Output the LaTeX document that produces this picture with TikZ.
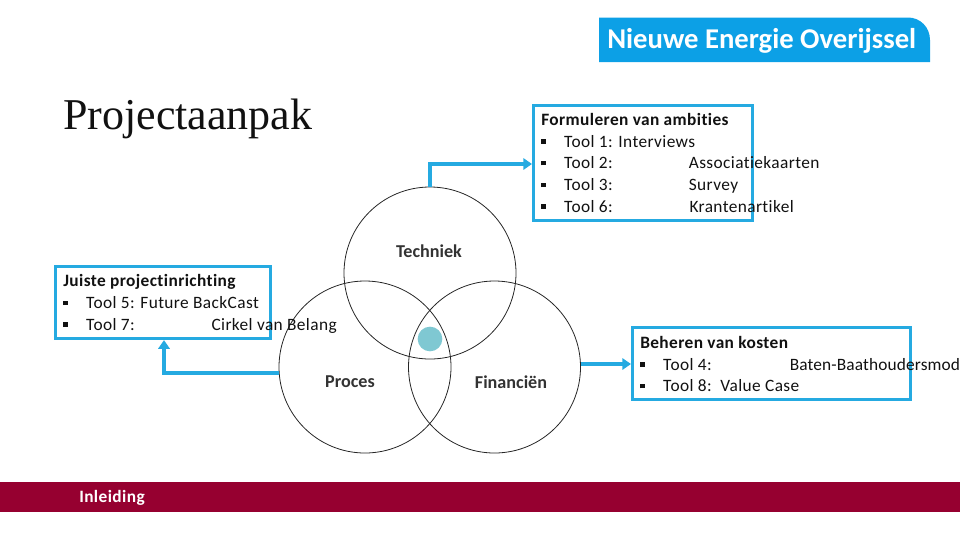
\documentclass[tikz,border=0pt]{standalone}
\usepackage{fontspec}
\setmainfont{Carlito}[LetterSpace=2.3,Ligatures=NoCommon]
\newfontfamily\titlefont{Liberation Serif}
\newfontfamily\tightfont{Carlito}
\definecolor{boxblue}{HTML}{25AAE1}
\definecolor{logoblue}{HTML}{0CA0E6}
\definecolor{band}{HTML}{960030}
\definecolor{dot}{HTML}{7FC8D2}
\definecolor{ink}{HTML}{111111}
\newcommand{\bul}{\rule[0.2em]{3.4pt}{3.4pt}}
\newcommand{\toolrow}[1]{\makebox[17.2pt][l]{\bul}#1}
\usetikzlibrary{arrows.meta}
\tikzset{
  x=0.75pt,y=-0.75pt,
  framebox/.style={draw=boxblue,line width=2.3pt,fill=none,anchor=north west,inner sep=0pt},
  body/.style={anchor=north west,inner sep=0pt,align=left,text=ink,font=\fontsize{13}{16.3}\selectfont},
  link/.style={draw=boxblue,line width=2.4pt,-{Triangle[length=6.5pt,width=8.5pt]}},
  ring/.style={draw=black!85,line width=0.6pt,circle,minimum size=129pt,inner sep=0pt},
  venn/.style={font=\tightfont\fontsize{13.6}{15}\selectfont\bfseries,text=black!80}
}
\begin{document}
\begin{tikzpicture}
\useasboundingbox (0,0) rectangle (960,540);
\clip (0,0) rectangle (960,540);
\fill[band] (0,482) rectangle (960,512);
\node[anchor=west,text=white,font=\fontsize{13}{15}\selectfont\bfseries,inner sep=0pt] (inl) at (79,497.5) {Inleiding};

\fill[logoblue] (599,17.5) -- (908,17.5) .. controls (920,17.5) and (930,27) .. (930,40) -- (930,62) -- (599,62) -- cycle;
\node[anchor=west,text=white,font=\tightfont\fontsize{21.5}{24}\selectfont\bfseries,inner sep=0pt] (logo) at (607,40.5) {Nieuwe Energie Overijssel};

\node[anchor=west,inner sep=0pt,font=\titlefont\fontsize{33}{38}\selectfont,text=ink] (title) at (63,119) {Projectaanpak};

\node[ring] (tech) at (430,273) {};
\node[ring] (proc) at (365,367) {};
\node[ring] (fin) at (494.5,367) {};
\node[fill=dot,circle,minimum size=18.5pt,inner sep=0pt] (core) at (430,339) {};
\node[venn] (l1) at (429,251) {Techniek};
\node[venn] (l2) at (350,382) {Proces};
\node[venn] (l3) at (511,382) {Financiën};

\node[framebox,minimum width=164.25pt,minimum height=86.25pt] (b1) at (532,104) {};
\node[framebox,minimum width=161.25pt,minimum height=54.4pt] (b2) at (54,264.5) {};
\node[framebox,minimum width=208.5pt,minimum height=54pt] (b3) at (631,326) {};

\node[body] (t1) at (541,113) {\textbf{Formuleren van ambities}\\
\toolrow{Tool 1: Interviews}\\
\toolrow{\makebox[93.5pt][l]{Tool 2:}Associatiekaarten}\\
\toolrow{\makebox[93.5pt][l]{Tool 3:}Survey}\\
\toolrow{\makebox[94pt][l]{Tool 6:}Krantenartikel}};
\node[body] (t2) at (63,274.5) {\textbf{Juiste projectinrichting}\\
\toolrow{Tool 5: Future BackCast}\\
\toolrow{\makebox[94pt][l]{Tool 7:}Cirkel van Belang}};
\node[body] (t3) at (640,336) {\textbf{Beheren van kosten}\\
\toolrow{\makebox[95pt][l]{Tool 4:}\addfontfeature{LetterSpace=0.8}Baten-Baathoudersmod}\\
\toolrow{Tool 8:\hspace{6.5pt}Value Case}};

\draw[link] (tech.north) |- (b1.west |- 0,164);
\draw[link] (proc.west |- 0,373) -| (164,0 |- b2.south);
\draw[link] (fin.east |- 0,364) -- (b3.west |- 0,364);
\end{tikzpicture}
\end{document}
